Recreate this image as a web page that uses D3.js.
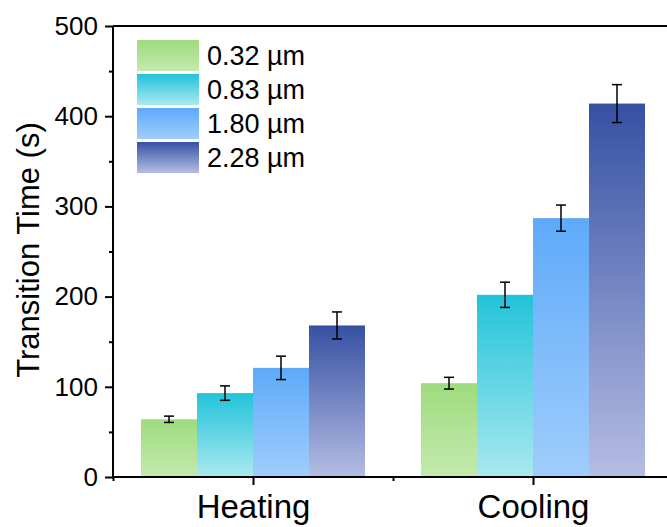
<!DOCTYPE html>
<html>
<head>
<meta charset="utf-8">
<script src="https://cdn.jsdelivr.net/npm/d3@7"></script>
<style>
  body { margin: 0; background: #fff; }
  text { font-family: "Liberation Sans", Arial, sans-serif; fill: #000; }
</style>
</head>
<body>
<div id="chart"></div>
<script>
// data
var categories = ["Heating", "Cooling"];
var series = ["0.32 µm", "0.83 µm", "1.80 µm", "2.28 µm"];
var heatingValues = [64, 93, 121, 168];
var heatingErrors = [3.5, 8, 13, 15];
var coolingValues = [104, 202, 287, 414];
var coolingErrors = [6.5, 14, 14.5, 21];
var yTicks = [0, 100, 200, 300, 400, 500];
var yMinorTicks = [50, 150, 250, 350, 450];

// gradient colours, top -> bottom
var topColors = ["#9edb7e", "#22c3da", "#5eaaf9", "#3650a3"];
var bottomColors = ["#c4eaae", "#aae9ef", "#a0cdfc", "#b5bde3"];

var width = 667, height = 527;

var x = d3.scaleLinear().domain([0.5, 2.5]).range([113, 673]);
var y = d3.scaleLinear().domain([0, 500]).range([477, 26]);
var barW = 0.2;

var rows = [];
categories.forEach(function(c, ci){
  var vals = ci == 0 ? heatingValues : coolingValues;
  var errs = ci == 0 ? heatingErrors : coolingErrors;
  series.forEach(function(s, si){
    rows.push({ cat: ci + 1, si: si, value: vals[si], err: errs[si] });
  });
});

var svg = d3.select("#chart").append("svg")
    .attr("width", width)
    .attr("height", height);

var defs = svg.append("defs");
series.forEach(function(s, i){
  var g = defs.append("linearGradient")
      .attr("id", "grad" + i)
      .attr("x1", 0).attr("y1", 0).attr("x2", 0).attr("y2", 1);
  g.append("stop").attr("offset", "0%").attr("stop-color", topColors[i]);
  g.append("stop").attr("offset", "100%").attr("stop-color", bottomColors[i]);
});

// bars
svg.selectAll(".bar")
    .data(rows)
    .enter().append("rect")
      .attr("class", "bar")
      .attr("x", function(d){ return x(d.cat + (d.si - 2) * barW); })
      .attr("y", function(d){ return y(d.value); })
      .attr("width", function(d){ return x(d.cat + (d.si - 1) * barW) - x(d.cat + (d.si - 2) * barW); })
      .attr("height", function(d){ return y(0) - y(d.value); })
      .style("fill", function(d){ return "url(#grad" + d.si + ")"; });

// error bars
var eb = svg.selectAll(".err")
    .data(rows)
    .enter().append("g")
      .attr("class", "err")
      .attr("transform", function(d){ return "translate(" + x(d.cat + (d.si - 1.5) * barW) + ",0)"; })
      .style("stroke", "#000")
      .style("stroke-width", 1.5);
eb.append("line")
    .attr("y1", function(d){ return y(d.value + d.err); })
    .attr("y2", function(d){ return y(d.value - d.err); });
eb.append("line")
    .attr("x1", -5).attr("x2", 5)
    .attr("y1", function(d){ return y(d.value + d.err); })
    .attr("y2", function(d){ return y(d.value + d.err); });
eb.append("line")
    .attr("x1", -5).attr("x2", 5)
    .attr("y1", function(d){ return y(d.value - d.err); })
    .attr("y2", function(d){ return y(d.value - d.err); });

// axes
var yAxis = svg.append("g")
    .attr("transform", "translate(113,0)")
    .call(d3.axisLeft(y).tickValues(yTicks).tickSize(8).tickPadding(7));
svg.append("g")
    .attr("transform", "translate(113,0)")
    .call(d3.axisLeft(y).tickValues(yMinorTicks).tickSize(4).tickFormat(""))
    .select(".domain").remove();

var xAxis = svg.append("g")
    .attr("transform", "translate(0,477)")
    .call(d3.axisBottom(x).tickValues([1, 2]).tickSize(8).tickPadding(10)
      .tickFormat(function(d){ return categories[d - 1]; }));
svg.append("g")
    .attr("transform", "translate(0,477)")
    .call(d3.axisBottom(x).tickValues([0.5, 1.5, 2.5]).tickSize(4).tickFormat(""))
    .select(".domain").remove();

// top frame
svg.append("line")
    .attr("x1", x(0.5)).attr("x2", x(2.5))
    .attr("y1", y(500)).attr("y2", y(500))
    .style("stroke", "#000").style("stroke-width", 2);

svg.selectAll(".domain").style("stroke-width", 2);
svg.selectAll(".tick line").style("stroke-width", 2);
yAxis.selectAll(".domain").attr("d", "M0," + y(500) + "V" + y(0));
xAxis.selectAll(".domain").attr("d", "M" + x(0.5) + ",0H" + x(2.5));

yAxis.selectAll("text")
    .style("font-size", "26px")
    .style("font-family", "Liberation Sans, Arial, sans-serif");
xAxis.selectAll("text")
    .style("font-size", "33px")
    .style("font-family", "Liberation Sans, Arial, sans-serif");

// y title
svg.append("text")
    .attr("transform", "translate(39,250) rotate(-90)")
    .style("text-anchor", "middle")
    .style("font-size", "31px")
    .text("Transition Time (s)");

// legend
var legend = svg.selectAll(".legend")
    .data(series)
    .enter().append("g")
      .attr("class", "legend")
      .attr("transform", function(d, i){ return "translate(137," + (40 + i * 34) + ")"; });
legend.append("rect")
    .attr("width", 62)
    .attr("height", 31)
    .style("fill", function(d, i){ return "url(#grad" + i + ")"; });
legend.append("text")
    .attr("x", 70)
    .attr("y", 15.5)
    .attr("dy", "0.35em")
    .style("font-size", "27px")
    .text(function(d){ return d; });
</script>
</body>
</html>
